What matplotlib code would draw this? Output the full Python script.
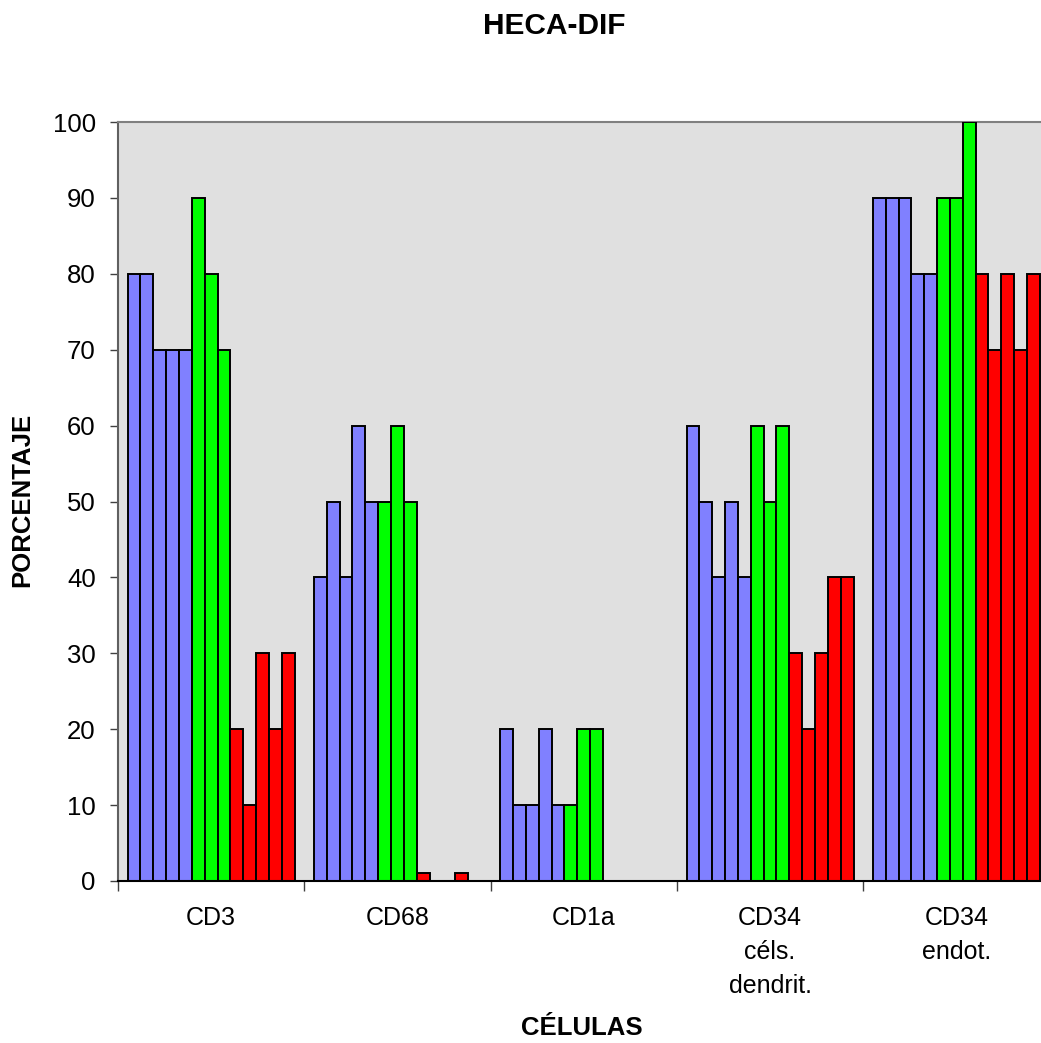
import matplotlib
matplotlib.use("Agg")
import matplotlib.pyplot as plt
import numpy as np

plt.rcParams['font.family'] = ['Liberation Sans', 'DejaVu Sans']

categorias = ["CD3", "CD68", "CD1a", "CD34\ncéls.\ndendrit.", "CD34\nendot."]

# cinco casos azules, tres verdes y cinco rojos por cada tipo de célula
azul = [[80, 80, 70, 70, 70],
        [40, 50, 40, 60, 50],
        [20, 10, 10, 20, 10],
        [60, 50, 40, 50, 40],
        [90, 90, 90, 80, 80]]
verde = [[90, 80, 70],
         [50, 60, 50],
         [10, 20, 20],
         [60, 50, 60],
         [90, 90, 100]]
rojo = [[20, 10, 30, 20, 30],
        [1, 0, 0, 1, 0],
        [0, 0, 0, 0, 0],
        [30, 20, 30, 40, 40],
        [80, 70, 80, 70, 80]]

colores = ["#8080FF", "#00FF00", "#FF0000"]

W, H = 1041, 1043
fig = plt.figure(figsize=(W / 100, H / 100), dpi=100)
ax = fig.add_axes([118 / W, (H - 881) / H, 931.5 / W, 759 / H])
ax.set_facecolor("#E0E0E0")

n_series = 13
ancho = 1.0 / (n_series + 1.5)
for i in range(len(categorias)):
    valores = azul[i] + verde[i] + rojo[i]
    cols = [colores[0]] * len(azul[i]) + [colores[1]] * len(verde[i]) + [colores[2]] * len(rojo[i])
    x0 = i + 0.75 * ancho
    xs = x0 + ancho * np.arange(len(valores))
    for x, v, c in zip(xs, valores, cols):
        if v > 0:
            ax.bar(x, v, width=ancho, align="edge", color=c,
                   edgecolor="black", linewidth=1.4, zorder=3)

ax.set_xlim(0, len(categorias))
ax.set_ylim(0, 100)
ax.set_yticks(np.arange(0, 101, 10))
ax.tick_params(axis="y", labelsize=18.5, length=6, width=1, color="#404040", pad=10)

ax.set_xticks(np.arange(len(categorias)) + 0.5)
ax.set_xticklabels(categorias, fontsize=18, linespacing=1.52, va="top")
ax.tick_params(axis="x", which="major", length=0, pad=18)
ax.set_xticks(np.arange(len(categorias) + 1), minor=True)
ax.tick_params(axis="x", which="minor", length=7, width=1, color="#404040")

for lado in ["top", "right"]:
    ax.spines[lado].set_color("#808080")
    ax.spines[lado].set_linewidth(1.5)
ax.spines["left"].set_color("#606060")
ax.spines["left"].set_linewidth(1.5)
ax.spines["bottom"].set_color("black")
ax.spines["bottom"].set_linewidth(1.5)
ax.spines["bottom"].set_zorder(4)

fig.text(554 / W, 1 - 26 / H, "HECA-DIF", fontsize=21.5, fontweight="bold",
         ha="center", va="center")
fig.text(582 / W, 1 - 1028 / H, "CÉLULAS", fontsize=18.5, fontweight="bold",
         ha="center", va="center")
fig.text(22 / W, 1 - 500 / H, "PORCENTAJE", fontsize=18.5, fontweight="bold",
         ha="center", va="center", rotation=90)

fig.savefig("out.png", dpi=100)
